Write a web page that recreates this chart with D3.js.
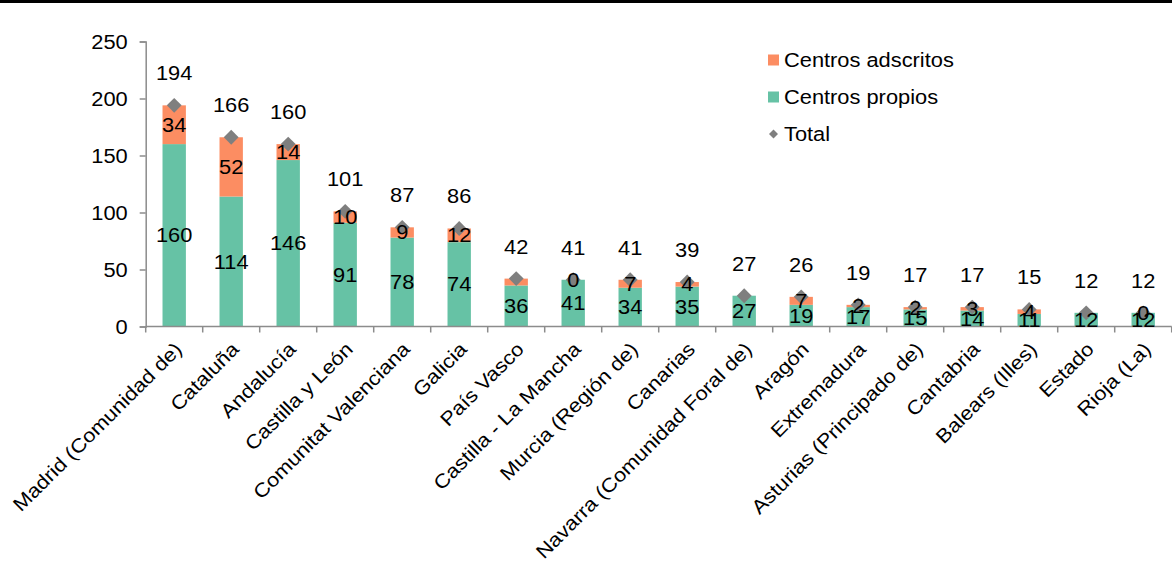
<!DOCTYPE html>
<html>
<head>
<meta charset="utf-8">
<script src="https://cdn.jsdelivr.net/npm/d3@7"></script>
<style>
  body { margin: 0; background: #fff; }
  text { font-family: Arial, "Liberation Sans", sans-serif; fill: #000; }
</style>
</head>
<body>
<div id="chart"></div>
<script>
// Data
var categories = ["Madrid (Comunidad de)", "Cataluña", "Andalucía", "Castilla y León",
   "Comunitat Valenciana", "Galicia", "País Vasco", "Castilla - La Mancha",
   "Murcia (Región de)", "Canarias", "Navarra (Comunidad Foral de)", "Aragón",
   "Extremadura", "Asturias (Principado de)", "Cantabria", "Balears (Illes)",
   "Estado", "Rioja (La)"];
var propios = [160, 114, 146, 91, 78, 74, 36, 41, 34, 35, 27, 19, 17, 15, 14, 11, 12, 12];
var adscritos = [34, 52, 14, 10, 9, 12, 6, 0, 7, 4, null, 7, 2, 2, 3, 4, null, 0];
// labels shown on the adscritos segments (null = no label in the original)
var adscritosLabels = [34, 52, 14, 10, 9, 12, null, 0, 7, 4, null, 7, 2, 2, 3, 4, null, 0];
var totals = [194, 166, 160, 101, 87, 86, 42, 41, 41, 39, 27, 26, 19, 17, 17, 15, 12, 12];
var yTicks = [0, 50, 100, 150, 200, 250];

var width = 1172, height = 561;
var margin = { left: 145.7, right: 0.3, top: 41.5, bottom: 234.5 };
var green = "#66c2a5", orange = "#fc8d62", grey = "#7f7f7f", axisCol = "#8c8c8c";
var fs = "19.5px", stretch = " scale(1.12,1)"; // text looks a bit wide in the original

var svg = d3.select("#chart").append("svg")
   .attr("width", width)
   .attr("height", height);

// top black rule
svg.append("rect")
   .attr("x", 0).attr("y", 0)
   .attr("width", width).attr("height", 3)
   .attr("fill", "#000");

var x = d3.scaleBand()
   .domain(categories)
   .range([margin.left, width - margin.right])
   .paddingInner(0.59)
   .paddingOuter(0.295);

var y = d3.scaleLinear()
   .domain([0, 250])
   .range([height - margin.bottom, margin.top]);

var cx = function (i) { return x(categories[i]) + x.bandwidth() / 2; };
var at = function (px, py) { return "translate(" + px + "," + py + ")" + stretch; };

// bars: propios
svg.selectAll(".bar-p")
   .data(propios)
   .enter().append("rect")
   .attr("class", "bar-p")
   .attr("x", function (d, i) { return x(categories[i]); })
   .attr("y", function (d) { return y(d); })
   .attr("width", x.bandwidth())
   .attr("height", function (d) { return y(0) - y(d); })
   .attr("fill", green);

// bars: adscritos stacked on top
svg.selectAll(".bar-a")
   .data(adscritos)
   .enter().append("rect")
   .attr("class", "bar-a")
   .attr("x", function (d, i) { return x(categories[i]); })
   .attr("y", function (d, i) { return y(propios[i] + (d || 0)); })
   .attr("width", x.bandwidth())
   .attr("height", function (d, i) { return y(propios[i]) - y(propios[i] + (d || 0)); })
   .attr("fill", orange);

// axes
var axisY = y(0);
svg.append("line")
   .attr("x1", margin.left).attr("x2", width - margin.right)
   .attr("y1", axisY).attr("y2", axisY)
   .attr("stroke", axisCol).attr("stroke-width", 1.5);

var step = x.step();
var bounds = d3.range(categories.length + 1).map(function (i) { return margin.left + i * step; });
svg.selectAll(".xtick")
   .data(bounds)
   .enter().append("line")
   .attr("x1", function (d) { return d; }).attr("x2", function (d) { return d; })
   .attr("y1", axisY).attr("y2", axisY + 6)
   .attr("stroke", axisCol).attr("stroke-width", 1.5);

var yAxis = d3.axisLeft(y).tickValues(yTicks).tickSize(6).tickFormat("");
var gy = svg.append("g")
   .attr("transform", "translate(" + margin.left + ",0)")
   .call(yAxis);
gy.select(".domain").attr("stroke", axisCol).attr("stroke-width", 1.5);
gy.selectAll(".tick line").attr("stroke", axisCol).attr("stroke-width", 1.5);
svg.selectAll(".ylab")
   .data(yTicks)
   .enter().append("text")
   .attr("transform", function (d) { return at(margin.left - 18, y(d)); })
   .attr("dy", "0.36em")
   .attr("text-anchor", "end")
   .style("font-size", fs)
   .text(function (d) { return d; });

// category labels
svg.selectAll(".xlab")
   .data(categories)
   .enter().append("text")
   .attr("class", "xlab")
   .attr("transform", function (d, i) { return "translate(" + (cx(i) + 9) + "," + (axisY + 24) + ") rotate(-45)" + stretch; })
   .attr("text-anchor", "end")
   .style("font-size", fs)
   .text(function (d) { return d; });

// total diamonds
var diamond = d3.symbol().type(d3.symbolSquare).size(110);
svg.selectAll(".tot")
   .data(totals)
   .enter().append("path")
   .attr("d", diamond)
   .attr("transform", function (d, i) { return "translate(" + cx(i) + "," + y(d) + ") rotate(45)"; })
   .attr("fill", grey);

// segment labels
svg.selectAll(".lab-p")
   .data(propios)
   .enter().append("text")
   .attr("transform", function (d, i) { return at(cx(i), y(d / 2)); })
   .attr("dy", "0.36em")
   .attr("text-anchor", "middle")
   .style("font-size", fs)
   .text(function (d) { return d; });

var aLabs = adscritosLabels
   .map(function (d, i) { return { v: d, i: i }; })
   .filter(function (d) { return d.v !== null; });
svg.selectAll(".lab-a")
   .data(aLabs)
   .enter().append("text")
   .attr("transform", function (d) { return at(cx(d.i), y(propios[d.i] + d.v / 2)); })
   .attr("dy", "0.36em")
   .attr("text-anchor", "middle")
   .style("font-size", fs)
   .text(function (d) { return d.v; });

svg.selectAll(".lab-t")
   .data(totals)
   .enter().append("text")
   .attr("transform", function (d, i) { return at(cx(i), y(d) - 32); })
   .attr("dy", "0.36em")
   .attr("text-anchor", "middle")
   .style("font-size", fs)
   .text(function (d) { return d; });

// legend
var legendItems = [
   { name: "Centros adscritos", color: orange, type: "rect" },
   { name: "Centros propios", color: green, type: "rect" },
   { name: "Total", color: grey, type: "diamond" }
];
var legend = svg.append("g").attr("transform", "translate(768,60)");
legendItems.forEach(function (d, i) {
   var g = legend.append("g").attr("transform", "translate(0," + i * 37 + ")");
   if (d.type === "rect") {
      g.append("rect").attr("x", 0).attr("y", -5.5).attr("width", 11).attr("height", 11).attr("fill", d.color);
   } else {
      g.append("path").attr("d", d3.symbol().type(d3.symbolSquare).size(40))
         .attr("transform", "translate(5.5,0) rotate(45)").attr("fill", d.color);
   }
   g.append("text").attr("transform", at(16, 0)).attr("dy", "0.36em")
      .style("font-size", fs).text(d.name);
});
</script>
</body>
</html>
